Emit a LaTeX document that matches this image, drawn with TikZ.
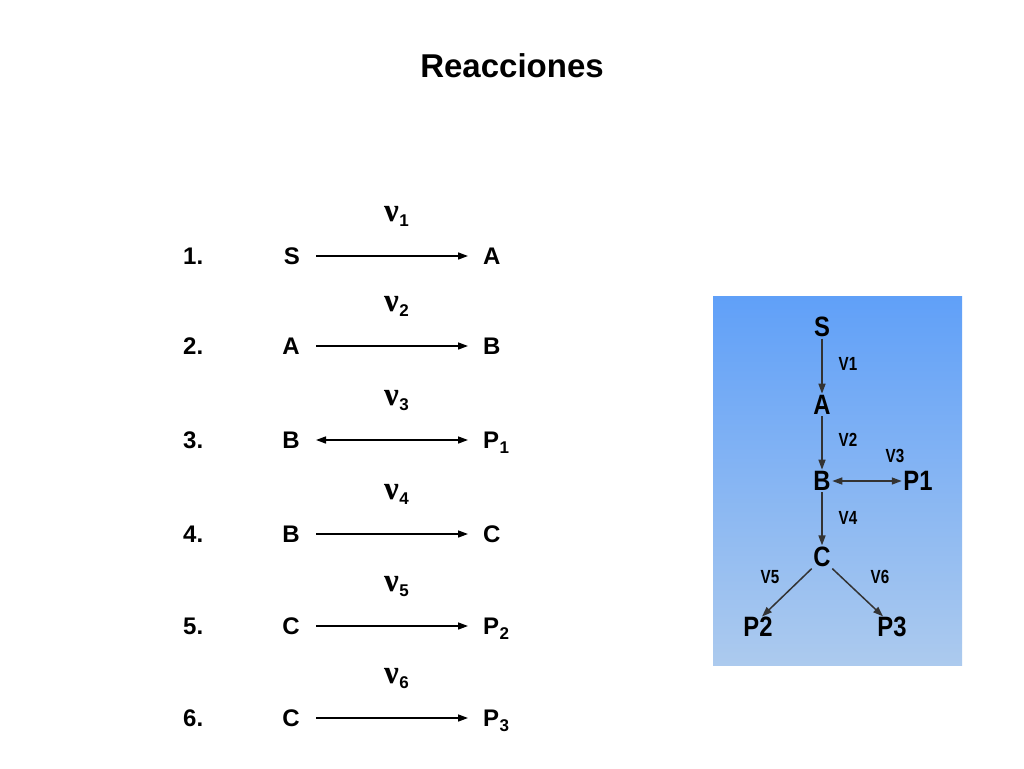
\documentclass[tikz,border=0pt]{standalone}
\usepackage{fontspec}
\setmainfont{Liberation Sans}
\newfontfamily\nufont{Liberation Serif}
\usetikzlibrary{arrows.meta}
\definecolor{boxtop}{RGB}{96,160,248}
\definecolor{boxbot}{RGB}{172,202,238}
\newcommand{\nusub}[1]{{\nufont\bfseries\fontsize{33}{36}\selectfont ν}\kern0.5pt\raisebox{-5pt}{\fontsize{17}{20}\selectfont\bfseries #1}}
\newcommand{\psub}[1]{P\kern0.5pt\raisebox{-5pt}{\fontsize{17}{20}\selectfont\bfseries #1}}
\begin{document}
\begin{tikzpicture}[x=1pt,y=-1pt,
  lbl/.style={inner sep=0pt,font=\fontsize{24}{28}\selectfont\bfseries},
  nulbl/.style={inner sep=0pt},
  rxn/.style={line width=1.5pt,-{Triangle[length=10pt,width=7pt]}},
  rxnb/.style={line width=1.5pt,{Triangle[length=10pt,width=7pt]}-{Triangle[length=10pt,width=7pt]}},
  met/.style={inner sep=1.5pt,font=\fontsize{28}{28}\selectfont\bfseries},
  vl/.style={inner sep=0pt,font=\fontsize{19}{20}\selectfont\bfseries},
  path/.style={line width=1.5pt,draw=black!80,-{Triangle[length=10pt,width=7pt]}},
  pathb/.style={line width=1.5pt,draw=black!80,{Triangle[length=10pt,width=7pt]}-{Triangle[length=10pt,width=7pt]}}
]
\useasboundingbox (0,0) rectangle (1024,768);
\fill[white] (0,0) rectangle (1024,768);
\node[inner sep=0pt,font=\fontsize{33}{36}\selectfont\bfseries] (title) at (512,66) {Reacciones};

% reactions
\foreach \i/\y/\l/\r/\arr in {1/256/S/A/rxn, 2/346/A/B/rxn, 3/440/B/\psub{1}/rxnb, 4/534/B/C/rxn, 5/626/C/\psub{2}/rxn, 6/718/C/\psub{3}/rxn}{
  \node[lbl,anchor=west] (n\i) at (183,\y) {\i.};
  \node[lbl,anchor=east] (l\i) at (300,\y) {\l};
  \node[lbl,anchor=base west] (r\i) at (483,\y+8.6) {\r};
  \coordinate (rw\i) at (483,\y);
  \node[nulbl,anchor=base west] (v\i) at (384,\y-35) {\nusub{\i}};
  \draw[\arr] ([xshift=16pt]l\i.east) -- ([xshift=-15pt]rw\i);
}

% pathway box
\shade[top color=boxtop,bottom color=boxbot] (713,296) rectangle (962,665);
\node[met] (S) at (822,327) {\scalebox{0.85}[1]{S}};
\node[met] (A) at (822,405) {\scalebox{0.85}[1]{A}};
\node[met] (B) at (822,481) {\scalebox{0.85}[1]{B}};
\node[met] (P1) at (918,481) {\scalebox{0.85}[1]{P1}};
\node[met] (C) at (822,557) {\scalebox{0.85}[1]{C}};
\node[met] (P2) at (758,627) {\scalebox{0.85}[1]{P2}};
\node[met] (P3) at (892,627) {\scalebox{0.85}[1]{P3}};
\draw[path] (S) -- (A);
\draw[path] (A) -- (B);
\draw[pathb] (B) -- (P1);
\draw[path] (B) -- (C);
\draw[path] (C.south west) -- ([shift={(4pt,-1pt)}]P2.north);
\draw[path] (C.south east) -- ([shift={(-9pt,-1pt)}]P3.north);
\node[vl] (V1) at (848,364) {\scalebox{0.8}[1]{V1}};
\node[vl] (V2) at (848,440) {\scalebox{0.8}[1]{V2}};
\node[vl] (V3) at (895,456) {\scalebox{0.8}[1]{V3}};
\node[vl] (V4) at (848,518) {\scalebox{0.8}[1]{V4}};
\node[vl] (V5) at (770,577) {\scalebox{0.8}[1]{V5}};
\node[vl] (V6) at (880,577) {\scalebox{0.8}[1]{V6}};
\end{tikzpicture}
\end{document}
